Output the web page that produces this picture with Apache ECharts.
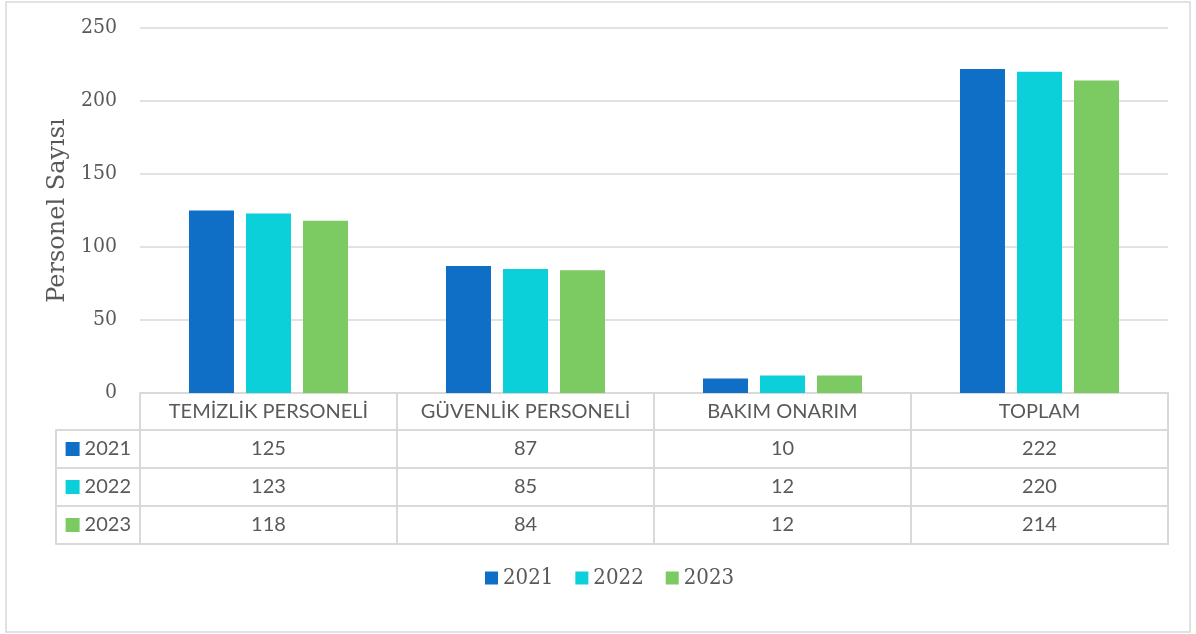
<!DOCTYPE html>
<html>
<head>
<meta charset="utf-8">
<script src="https://cdn.jsdelivr.net/npm/echarts@6/dist/echarts.min.js"></script>
<style>html,body{margin:0;padding:0;background:#fff}#c{width:1196px;height:634px}</style>
</head>
<body>
<div id="c"></div>
<script>
const categories = ['TEMİZLİK PERSONELİ', 'GÜVENLİK PERSONELİ', 'BAKIM ONARIM', 'TOPLAM'];
const years = ['2021', '2022', '2023'];
const values2021 = [125, 87, 10, 222];
const values2022 = [123, 85, 12, 220];
const values2023 = [118, 84, 12, 214];
const yTicks = { min: 0, max: 250, interval: 50 };
const axisTitle = 'Personel Sayısı';

const colors = ['#0F6FC6', '#0BD0D9', '#7CCA62'];
const seriesValues = [values2021, values2022, values2023];
const txt = '#595959';
const line = '#d9d9d9';
const serifCond = 'DejaVu Serif Condensed';
const serifFont = 'DejaVu Serif';
const sansFont = 'Lato';

const tableData = [];
seriesValues.forEach((vals, r) => vals.forEach((v, c) => tableData.push([c, r, v])));

const chart = echarts.init(document.getElementById('c'), null, { renderer: 'canvas' });
const option = {
  animation: false,
  backgroundColor: '#fff',
  color: colors,
  graphic: [{
    type: 'rect', shape: { x: 6, y: 2, width: 1184, height: 630 },
    style: { fill: 'none', stroke: line, lineWidth: 1.5 }, silent: true, z: -10
  }],
  legend: {
    data: years, top: 560, left: 480, icon: 'rect',
    itemWidth: 13, itemHeight: 13, itemGap: 22,
    textStyle: { fontFamily: serifCond, fontSize: 22, color: txt, lineHeight: 26 }
  },
  grid: [
    { left: 140, right: 28, top: 28, bottom: 241 },
    { left: 140, right: 28, top: 430, height: 114 }
  ],
  xAxis: [
    {
      type: 'category', gridIndex: 0, data: categories,
      axisLine: { lineStyle: { color: line, width: 2 } },
      axisTick: { show: true, interval: 0, length: 37, lineStyle: { color: line, width: 2 } },
      axisLabel: { interval: 0, margin: 19, verticalAlign: 'middle', color: txt, fontFamily: sansFont, fontSize: 20 }
    },
    {
      type: 'category', gridIndex: 1, data: categories, show: false
    }
  ],
  yAxis: [
    {
      type: 'value', gridIndex: 0, min: yTicks.min, max: yTicks.max, interval: yTicks.interval,
      name: axisTitle, nameLocation: 'middle', nameGap: 69,
      nameTextStyle: { fontFamily: serifFont, fontSize: 24, color: txt },
      axisLine: { show: false }, axisTick: { show: false },
      axisLabel: { margin: 23, color: txt, fontFamily: serifCond, fontSize: 21 },
      splitLine: { lineStyle: { color: line, width: 1.5 } }
    },
    {
      type: 'category', gridIndex: 1, data: years, inverse: true,
      axisLine: { show: true, lineStyle: { color: line, width: 2 } },
      axisTick: { show: true, length: 84, lineStyle: { color: line, width: 2 } },
      axisLabel: {
        margin: 9, color: txt, fontFamily: sansFont, fontSize: 20,
        formatter: (v, i) => '{s' + i + '|}{t|' + v + '}',
        rich: {
          s0: { backgroundColor: colors[0], width: 14, height: 14 },
          s1: { backgroundColor: colors[1], width: 14, height: 14 },
          s2: { backgroundColor: colors[2], width: 14, height: 14 },
          t: { fontFamily: sansFont, fontSize: 20, color: txt, padding: [0, 0, 0, 5] }
        }
      }
    },
    {
      type: 'category', gridIndex: 1, data: years, inverse: true, position: 'left', offset: 84,
      axisLine: { show: true, lineStyle: { color: line, width: 2 } },
      axisTick: { show: false }, axisLabel: { show: false }
    }
  ],
  series: [
    ...years.map((y, i) => ({
      name: y, type: 'bar', xAxisIndex: 0, yAxisIndex: 0,
      data: seriesValues[i], barWidth: 45, barGap: '26.7%'
    })),
    {
      type: 'custom', xAxisIndex: 1, yAxisIndex: 1, data: tableData,
      renderItem: (params, api) => {
        const c = api.coord([api.value(0), api.value(1)]);
        const s = api.size([1, 1]);
        return {
          type: 'rect',
          shape: { x: c[0] - s[0] / 2, y: c[1] - s[1] / 2, width: s[0], height: s[1] },
          style: { fill: '#fff', stroke: line, lineWidth: 2 },
          textContent: { style: { text: String(api.value(2)), fill: txt, fontFamily: sansFont, fontSize: 20 } },
          textConfig: { position: 'inside' }
        };
      }
    }
  ]
};
chart.setOption(option);
</script>
</body>
</html>
